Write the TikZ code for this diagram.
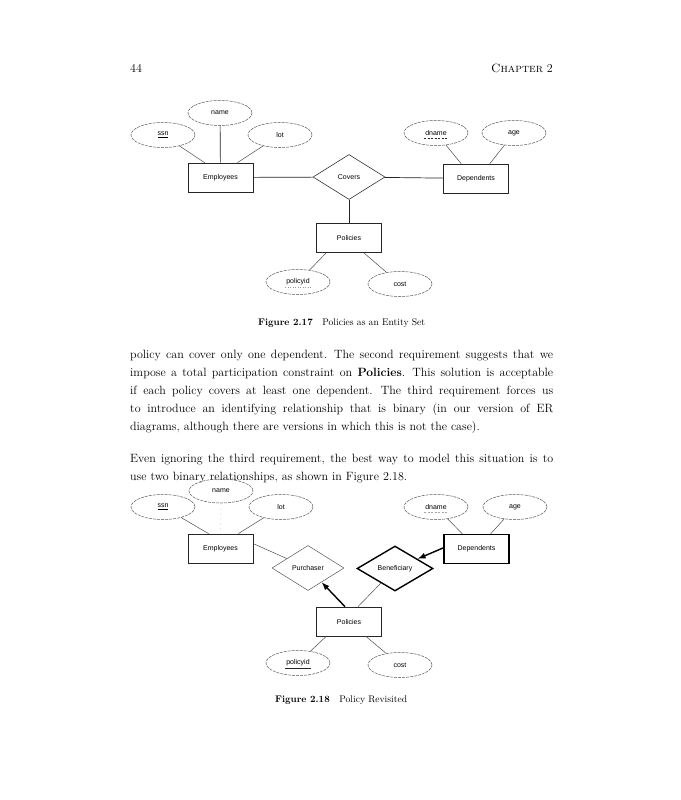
\documentclass[tikz,border=0pt]{standalone}
\usepackage{fontspec}
\newfontfamily\diagfont{Liberation Sans}
\usetikzlibrary{shapes.geometric,arrows.meta,calc}
\newcommand\fullline[1]{\hbox to 423pt{\spaceskip=4pt plus 6pt minus 1.3pt\xspaceskip=5.3pt plus 8pt minus 1pt #1}}
\begin{document}
\begin{tikzpicture}[x=1pt,y=-1pt,
  dfont/.style={font=\diagfont\fontsize{7}{8}\selectfont},
  attr/.style={ellipse, draw=black!65, line width=0.5pt, dash pattern=on 3pt off 1pt,
    minimum width=64pt, minimum height=25pt, inner sep=0pt, dfont},
  ent/.style={rectangle, draw=black!85, line width=0.7pt, minimum width=65pt,
    minimum height=29pt, inner sep=0pt, dfont},
  wkent/.style={ent, draw=black, line width=1.3pt},
  rel/.style={diamond, draw=black!80, line width=0.6pt, minimum width=72pt,
    minimum height=45pt, inner sep=0pt, dfont},
  idrel/.style={rel, draw=black, line width=1.4pt, minimum width=76pt},
  link/.style={draw=black!70, line width=0.5pt},
  biglink/.style={draw=black!85, line width=0.7pt},
  faint/.style={draw=black!30, line width=0.5pt, dash pattern=on 1pt off 4pt},
  heavy/.style={draw=black, line width=1.4pt, -{Latex[length=8pt,width=6pt]}},
  keyline/.style={draw=black!85, line width=0.5pt},
  pkeyline/.style={draw=black!85, line width=0.5pt, dash pattern=on 2pt off 1.5pt},
  txt/.style={inner sep=0pt, font=\fontsize{12}{18}\selectfont}
]
\useasboundingbox (0,0) rectangle (680,800);
\fill[white] (0,0) rectangle (680,800);

% header
\node[txt, anchor=base west] (pagenum) at (130,72) {44};
\node[txt, anchor=base east] (chap) at (553,72) {\textsc{Chapter} 2};

% ---------------- Figure 2.17 ----------------
\node[attr] (name1) at (220,113) {name};
\node[attr] (ssn1) at (163,135) {\underline{ssn}};
\node[attr] (lot1) at (280,135) {lot};
\node[attr] (dn1) at (436,133) {dname};
\node[attr] (age1) at (514,133) {age};
\node[ent] (emp1) at (220.5,177.5) {Employees};
\node[rel] (cov) at (349,177) {Covers};
\node[ent] (dep1) at (476,178.5) {Dependents};
\node[ent] (pol1) at (349,238) {Policies};
\node[attr] (pid1) at (298,282) {policyid};
\node[attr] (cost1) at (400,284) {cost};

\draw[pkeyline] ($(dn1)+(-12,5)$) -- ($(dn1)+(12,5)$);
\draw[keyline, draw=black!40, dash pattern=on 1pt off 1.5pt] ($(pid1)+(-13,5)$) -- ($(pid1)+(13,5)$);

\draw[link] (ssn1) -- ([xshift=17pt]emp1.north west);
\draw[biglink] (name1) -- (emp1);
\draw[link] (lot1) -- ([xshift=-16pt]emp1.north east);
\draw[biglink] (emp1) -- (cov);
\draw[biglink] (cov) -- (dep1);
\draw[biglink] (cov) -- (pol1);
\draw[link] (dn1) -- ([xshift=18pt]dep1.north west);
\draw[link] (age1) -- ([xshift=-19pt]dep1.north east);
\draw[link] ([xshift=10pt]pol1.south west) -- (pid1);
\draw[link] ([xshift=-18pt]pol1.south east) -- (cost1);

\node[inner sep=0pt, anchor=base west, font=\fontsize{9.6}{11}\selectfont] (cap1) at (258,325)
  {\textbf{Figure 2.17}\quad Policies as an Entity Set};

% ---------------- body text ----------------
\node[txt, anchor=north west, text width=423pt] (body) at (130,345.4) {%
\fullline{\strut policy can cover only one dependent. The second requirement suggests that we}
\fullline{impose a total participation constraint on \textbf{Policies}. This solution is acceptable}
\fullline{if each policy covers at least one dependent. The third requirement forces us}
\fullline{to introduce an identifying relationship that is binary (in our version of ER}
\hbox{diagrams, although there are versions in which this is not the case).}
\vskip 14pt
\fullline{Even ignoring the third requirement, the best way to model this situation is to}
\hbox{use two binary relationships, as shown in Figure 2.18.}};

% ---------------- Figure 2.18 ----------------
\node[attr, minimum height=24pt] (name2) at (221,491) {name};
\node[attr] (ssn2) at (163,507) {\underline{ssn}};
\node[attr] (lot2) at (281,507) {lot};
\node[attr] (dn2) at (436,507) {dname};
\node[attr] (age2) at (515,507) {age};
\node[ent] (emp2) at (220.5,548.5) {Employees};
\node[wkent] (dep2) at (476.5,549) {Dependents};
\node[rel, draw=black!65, line width=0.5pt] (pur) at (308,568) {Purchaser};
\node[idrel] (ben) at (395,568.5) {Beneficiary};
\node[ent] (pol2) at (349,621.5) {Policies};
\node[attr] (pid2) at (298,663) {policyid};
\node[attr] (cost2) at (400,665) {cost};

\draw[pkeyline, draw=black!35] ($(dn2)+(-12,5)$) -- ($(dn2)+(12,5)$);
\draw[keyline] ($(pid2)+(-13,5)$) -- ($(pid2)+(13,5)$);

\draw[link] (ssn2) -- ([xshift=21pt]emp2.north west);
\draw[faint] (name2) -- (emp2);
\draw[link] (lot2) -- ([xshift=-15pt]emp2.north east);
\draw[link] ([yshift=-10pt]emp2.north east) -- (pur);
\draw[heavy] ([xshift=-4pt]pol2.north) -- (pur);
\draw[link] ([xshift=9pt]pol2.north) -- (ben);
\draw[heavy] ([yshift=-14pt]dep2.north west) -- (ben);
\draw[link] (dn2) -- ([xshift=19pt]dep2.north west);
\draw[link] (age2) -- ([xshift=-19pt]dep2.north east);
\draw[link] ([xshift=10pt]pol2.south west) -- (pid2);
\draw[link] ([xshift=-16pt]pol2.south east) -- (cost2);

\node[inner sep=0pt, anchor=base west, font=\fontsize{9.6}{11}\selectfont] (cap2) at (275,702)
  {\textbf{Figure 2.18}\quad Policy Revisited};
\end{tikzpicture}
\end{document}
